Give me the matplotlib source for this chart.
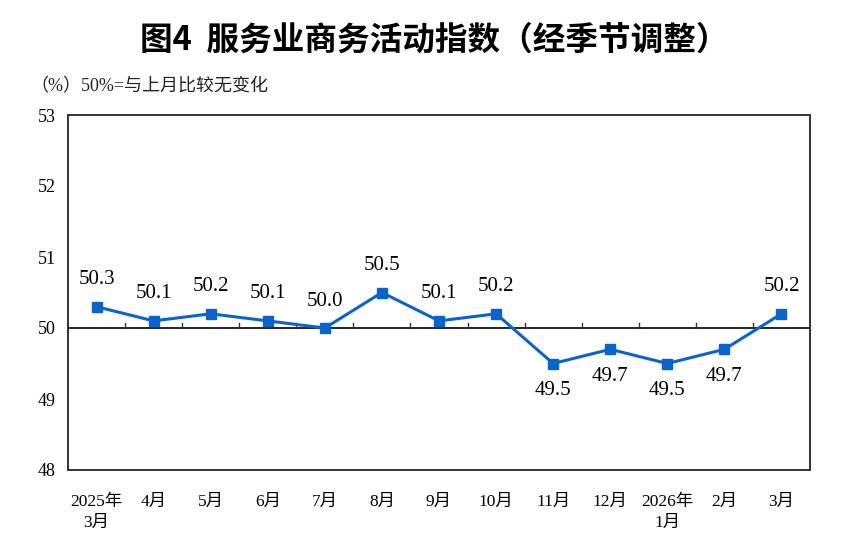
import matplotlib
matplotlib.use("Agg")
import matplotlib.pyplot as plt
from matplotlib.lines import Line2D

plt.rcParams['font.family'] = ['Liberation Serif', 'Noto Sans CJK SC', 'DejaVu Sans']

months = ['2025年\n3月', '4月', '5月', '6月', '7月', '8月', '9月', '10月',
          '11月', '12月', '2026年\n1月', '2月', '3月']
values = [50.3, 50.1, 50.2, 50.1, 50.0, 50.5, 50.1, 50.2, 49.5, 49.7, 49.5, 49.7, 50.2]
below = [False] * 8 + [True, True, True, True, False]

fig = plt.figure(figsize=(8.68, 5.4), dpi=100)
ax = fig.add_axes([68 / 868, 70 / 540, 742 / 868, 355 / 540])

x = list(range(len(values)))
blue = '#0b64cc'
ax.plot(x, values, color=blue, lw=2.2, marker='s', ms=6.5, zorder=3)
ax.axhline(50, color='black', lw=1.2, zorder=2)

for xi, v, b in zip(x, values, below):
    ax.annotate('%.1f' % v, (xi, v), xytext=(0, -27 if b else 27),
                textcoords='offset pixels',
                ha='center', va='center', fontsize=15)

# category boundary ticks sitting on the 50 line
for k in range(1, len(values)):
    ax.add_line(Line2D([k - 0.5, k - 0.5], [50, 50.07], color='#333333', lw=1.0))

ax.set_xlim(-0.5, len(values) - 0.5)
ax.set_ylim(48, 53)
ax.set_yticks([48, 49, 50, 51, 52, 53])
ax.set_xticks(x)
ax.set_xticklabels(months, fontsize=12.5, linespacing=1.45, va='top')
ax.tick_params(axis='x', length=0, pad=17)
ax.tick_params(axis='y', length=0, pad=22, labelsize=13)
for t in ax.get_yticklabels():
    t.set_ha('left')
for s in ax.spines.values():
    s.set_linewidth(1.4)
    s.set_color('#333333')

fig.text(0.5, 0.925, '图4  服务业商务活动指数（经季节调整）', ha='center', va='center',
         fontsize=23.5, fontweight='bold', family=['Noto Sans CJK SC', 'DejaVu Sans'])
fig.text(0.035, 0.84, '（%）50%=与上月比较无变化', ha='left', va='center', fontsize=13,
         color='#222222')

fig.savefig('out.png', dpi=100)
